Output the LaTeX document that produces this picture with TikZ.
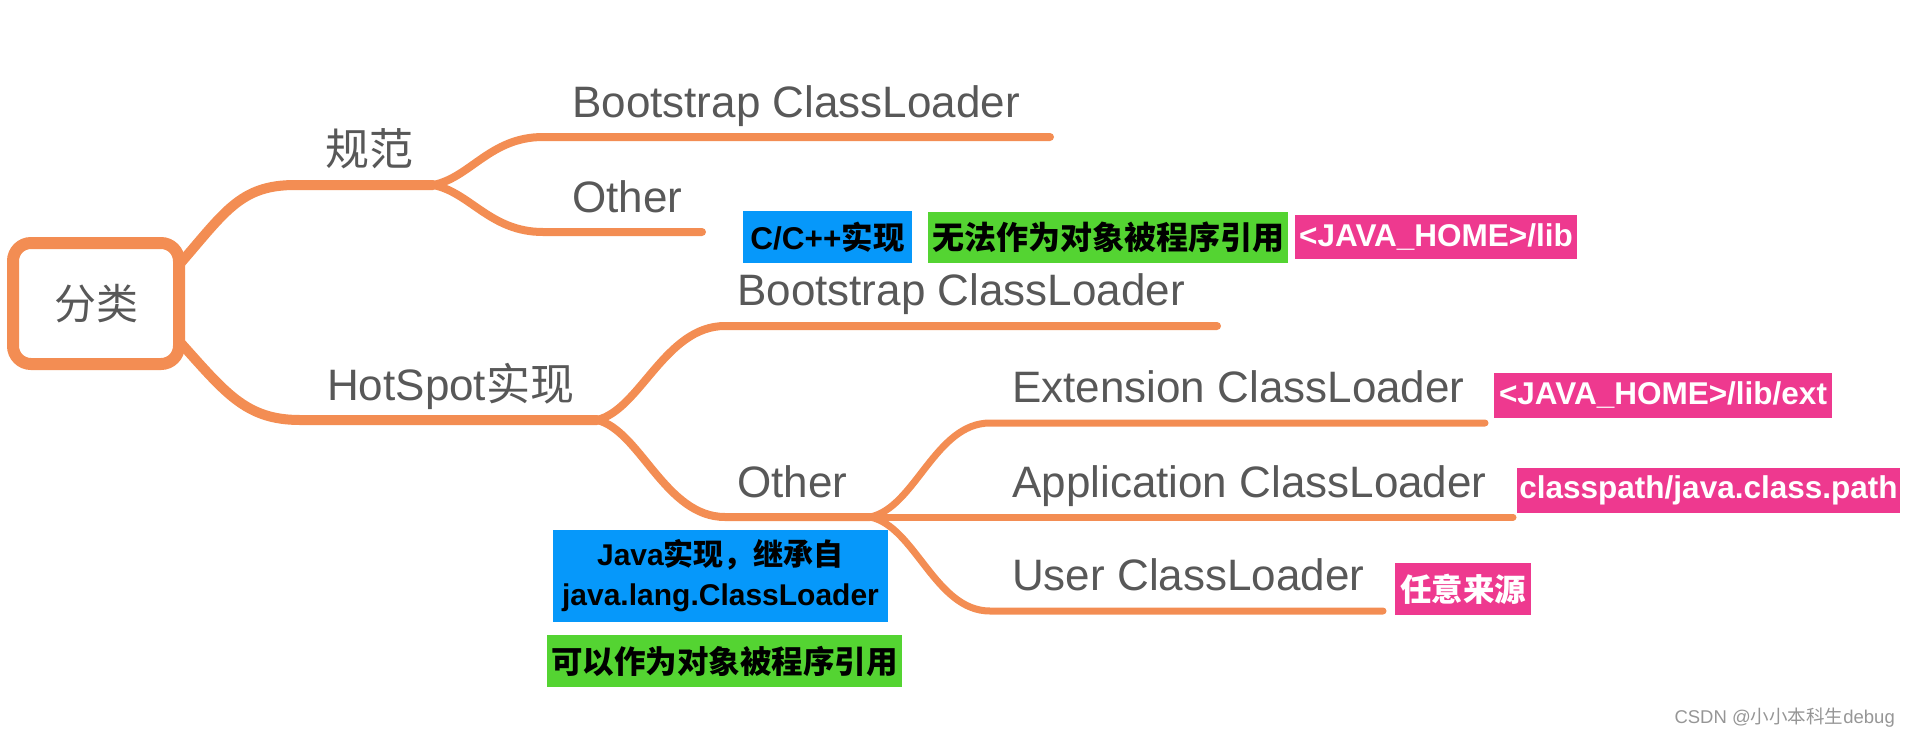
\documentclass[tikz,border=0pt]{standalone}
\usepackage{fontspec}
\setmainfont{Liberation Sans}
\newfontfamily\cjk{Noto Sans CJK SC}
\definecolor{mapline}{RGB}{243,141,83}
\definecolor{mapgray}{RGB}{88,88,88}
\definecolor{markgray}{RGB}{150,150,150}
\definecolor{tagblue}{RGB}{6,152,250}
\definecolor{taggreen}{RGB}{84,212,50}
\definecolor{tagpink}{RGB}{238,57,143}
\tikzset{
  mapbranch/.style={draw=mapline,line width=#1,line cap=round,line join=round},
  topic/.style={anchor=base west,inner sep=0,text=mapgray,font=\fontsize{44}{50}\selectfont},
  tagbox/.style={inner sep=0,align=center,font=\bfseries\fontsize{31.5}{38}\selectfont},
  bluetag/.style={tagbox,fill=tagblue,text=black},
  greentag/.style={tagbox,fill=taggreen,text=black},
  pinktag/.style={tagbox,fill=tagpink,text=white},
}
\begin{document}
\begin{tikzpicture}[x=1pt,y=-1pt]
    \useasboundingbox (0,0) rectangle (1911,737);
    \path (96,303.5) node[draw=mapline,line width=12,rounded corners=18,minimum width=166,minimum height=121,text=mapgray,font=\cjk\fontsize{42}{48}\selectfont] (root) {分类};

    \coordinate (r1) at (178,266);
    \coordinate (r2) at (178,340);
    \coordinate (f1) at (433,185);
    \coordinate (f2) at (597,420);
    \coordinate (f3) at (870,517);
    \coordinate (e11) at (1050,137);
    \coordinate (e12) at (702,232);
    \coordinate (e21) at (1217,326);
    \coordinate (e31) at (1485,423);
    \coordinate (e32) at (1513,517);
    \coordinate (e33) at (1383,611);

    \draw[mapbranch=10] (r1) .. controls (225,212) and (240,185) .. (295,185) -- (f1);
    \draw[mapbranch=10] (r2) .. controls (225,392) and (245,420) .. (300,420) -- (f2);
    \draw[mapbranch=8] (f1) .. controls (470,178) and (490,137) .. (543,137) -- (e11);
    \draw[mapbranch=8] (f1) .. controls (470,192) and (490,232) .. (543,232) -- (e12);
    \draw[mapbranch=8] (f2) .. controls (640,410) and (665,326) .. (725,326) -- (e21);
    \draw[mapbranch=8] (f2) .. controls (640,430) and (665,517) .. (725,517) -- (f3);
    \draw[mapbranch=7] (f3) .. controls (915,508) and (935,423) .. (990,423) -- (e31);
    \draw[mapbranch=7] (f3) -- (e32);
    \draw[mapbranch=7] (f3) .. controls (915,526) and (935,611) .. (990,611) -- (e33);

    \path (325,165) node[topic] (spec) {\cjk 规范};
    \path (572,117) node[topic] (boot1) {Bootstrap ClassLoader};
    \path (572,212) node[topic] (other1) {Other};
    \path (327,400) node[topic] (hotspot) {HotSpot{\cjk 实现}};
    \path (737,305) node[topic] (boot2) {Bootstrap ClassLoader};
    \path (737,497) node[topic] (other2) {Other};
    \path (1012,402) node[topic] (ext) {Extension ClassLoader};
    \path (1012,497) node[topic] (app) {Application ClassLoader};
    \path (1012,590) node[topic] (user) {User ClassLoader};

    \path (827.5,237) node[bluetag,minimum width=169,minimum height=52] (cimpl) {C/C++{\cjk 实现}};
    \path (1108,237.5) node[greentag,minimum width=360,minimum height=51,font=\bfseries\cjk\fontsize{32}{38}\selectfont] (noref) {无法作为对象被程序引用};
    \path (1436,237) node[pinktag,minimum width=282,minimum height=44] (libpath) {<JAVA\_HOME>/lib};
    \path (1663,395.5) node[pinktag,minimum width=338,minimum height=45] (extpath) {<JAVA\_HOME>/lib/ext};
    \path (1708.5,490.5) node[pinktag,minimum width=383,minimum height=45] (apppath) {classpath/java.class.path};
    \path (1463,589) node[pinktag,minimum width=136,minimum height=52,font=\bfseries\cjk\fontsize{31.5}{38}\selectfont] (anysrc) {任意来源};
    \path (720.5,576) node[bluetag,minimum width=335,minimum height=92,font=\bfseries\fontsize{30}{40}\selectfont] (javaimpl) {Java{\cjk 实现，继承自}\\java.lang.ClassLoader};
    \path (724.5,661) node[greentag,minimum width=355,minimum height=52,font=\bfseries\cjk\fontsize{31.5}{38}\selectfont] (canref) {可以作为对象被程序引用};

    \path (1895,723) node[anchor=base east,inner sep=0,text=markgray,font=\fontsize{18.5}{22}\selectfont] (mark) {CSDN @{\cjk 小小本科生}debug};
\end{tikzpicture}
\end{document}
